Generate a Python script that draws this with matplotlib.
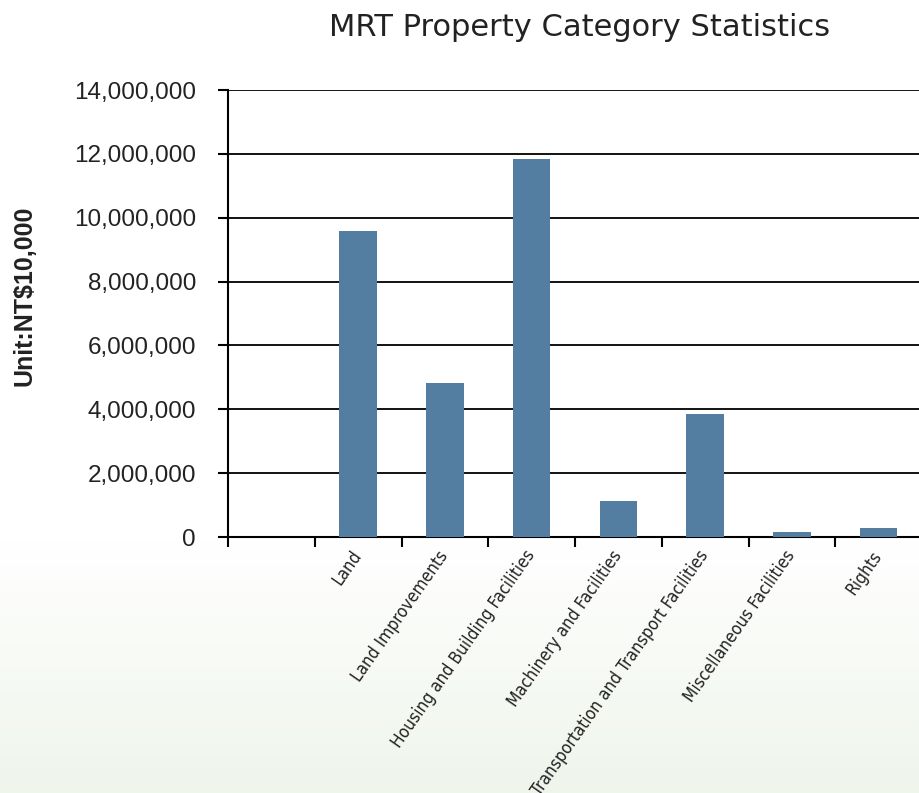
import numpy as np
import matplotlib
matplotlib.use('Agg')
import matplotlib.pyplot as plt
import matplotlib.transforms as mtransforms
from matplotlib.ticker import FuncFormatter, FixedLocator

# data (unit: NT$10,000)
categories = ["", "Land", "Land Improvements", "Housing and Building Facilities",
              "Machinery and Facilities", "Transportation and Transport Facilities",
              "Miscellaneous Facilities", "Rights"]
values = [0, 9580000, 4820000, 11840000, 1120000, 3850000, 150000, 270000]
y_ticks = [0, 2000000, 4000000, 6000000, 8000000, 10000000, 12000000, 14000000]

bar_color = '#537ea2'

fig = plt.figure(figsize=(9.19, 7.93), dpi=100)

# background: white on top, fading to a pale green at the bottom
bg = fig.add_axes([0, 0, 1, 1], zorder=-10)
h = 793
grad = np.ones((h, 1, 3))
start = 540
top_col = np.array([1.0, 1.0, 1.0])
bot_col = np.array([0.937, 0.961, 0.922])
for i in range(h):
    t = max(0.0, (i - start) / (h - start))
    grad[i, 0] = top_col + (bot_col - top_col) * t
bg.imshow(grad, aspect='auto', extent=[0, 1, 0, 1], origin='upper')
bg.set_axis_off()

ax = fig.add_axes([228 / 919, 1 - 537 / 793, 694 / 919, (537 - 90) / 793])
ax.patch.set_alpha(0)

x = np.arange(len(categories))
ax.bar(x, values, width=0.43, color=bar_color, zorder=3)

ax.set_xlim(-0.5, len(categories) - 0.5)
ax.set_ylim(0, 14000000)
ax.set_yticks(y_ticks)
ax.yaxis.set_major_formatter(FuncFormatter(lambda v, p: f'{int(v):,}'))
ax.yaxis.grid(True, color='black', linewidth=1.3, zorder=1)
ax.set_axisbelow(True)

# category labels at the centres, tick marks at the slot boundaries
ax.set_xticks(x)
ax.set_xticklabels(categories, rotation=55, ha='right', va='center',
                   rotation_mode='anchor', fontsize=12.4, family='DejaVu Sans',
                   stretch='condensed', color='#222222')
ax.xaxis.set_minor_locator(FixedLocator(np.arange(-0.5, len(categories), 1.0)))
ax.tick_params(axis='x', which='major', length=0, pad=11)
ax.tick_params(axis='x', which='minor', length=7, width=1.5, color='black')
ax.tick_params(axis='y', length=7, width=1.5, pad=16, labelsize=17.5,
               labelcolor='#222222')
for lab in ax.get_yticklabels():
    lab.set_family('Liberation Sans')

offset = mtransforms.ScaledTranslation(0, 0, fig.dpi_scale_trans)
for lab in ax.get_xticklabels():
    lab.set_transform(lab.get_transform() + offset)

for side in ['top', 'right']:
    ax.spines[side].set_visible(False)
for side in ['left', 'bottom']:
    ax.spines[side].set_linewidth(1.5)
    ax.spines[side].set_color('black')

fig.text(25 / 919, 1 - 296 / 793, 'Unit:NT$10,000', rotation=90,
         ha='center', va='center', fontsize=18, fontweight='bold',
         family='Liberation Sans', color='#222222')

fig.text(580 / 919, 1 - 27 / 793, 'MRT Property Category Statistics',
         ha='center', va='center', fontsize=22, family='DejaVu Sans',
         color='#222222')

fig.savefig('out.png', dpi=100)
